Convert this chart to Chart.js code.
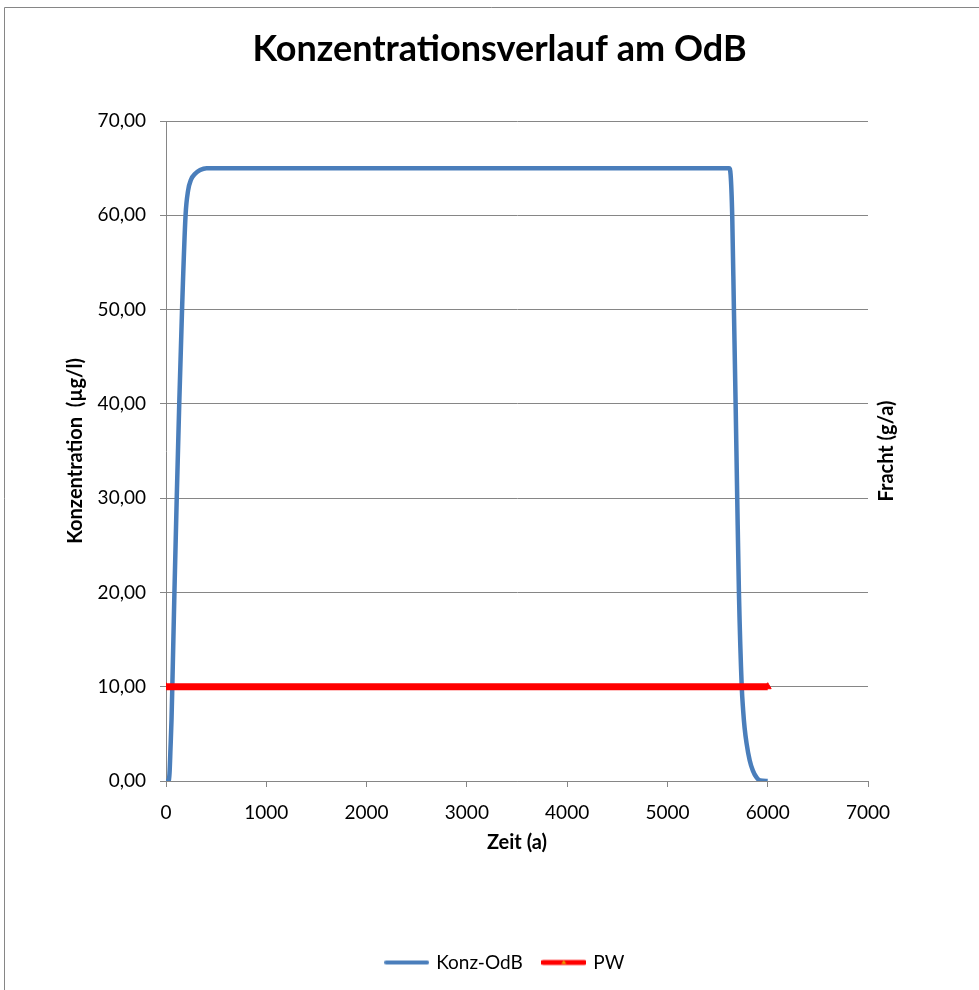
<!DOCTYPE html>
<html lang="de">
<head>
<meta charset="utf-8">
<title>Konzentrationsverlauf am OdB</title>
<script src="https://cdn.jsdelivr.net/npm/chart.js@4.4.1/dist/chart.umd.min.js"></script>
<style>
    html, body { margin: 0; padding: 0; background: #ffffff; }
    #chartBox { width: 979px; height: 990px; }
</style>
</head>
<body>
<div id="chartBox"><canvas id="konzChart" width="979" height="990"></canvas></div>
<script>
// Zeit (a) und Konzentration (µg/l)
const konzZeit = [0, 25, 35, 45, 55, 63, 84, 107, 132, 160, 195, 220, 250, 290, 340, 405, 600,
    5600, 5615, 5630, 5646, 5663, 5680, 5696, 5713, 5741, 5755, 5770, 5789, 5820, 5852, 5890, 5925, 6000];
const konzWert = [0, 0, 0.8, 3.5, 6.5, 10, 20, 30, 40, 50, 60, 62.6, 63.8, 64.4, 64.8, 65, 65,
    65, 65, 64.3, 60, 50, 40, 30, 20, 10, 7.5, 5.6, 4.0, 2.2, 1.1, 0.35, 0.05, 0];

// Prüfwert
const pwZeit = [0, 6000];
const pwWert = [10, 10];

const seriesNames = ['Konz-OdB', 'PW'];
const xTickLabels = ['0', '1000', '2000', '3000', '4000', '5000', '6000', '7000'];
const yTickLabels = ['0,00', '10,00', '20,00', '30,00', '40,00', '50,00', '60,00', '70,00'];

document.addEventListener('DOMContentLoaded', () => {
    const FONT = "Lato, 'Open Sans', sans-serif";
    const GRID = '#868686';
    const BLUE = '#4A7EBB';
    const RED = '#FF0000';

    // legend samples like Excel: line with marker
    function lineSample(color, width, marker) {
        const c = document.createElement('canvas');
        c.width = 45;
        c.height = 10;
        const g = c.getContext('2d');
        g.strokeStyle = color;
        g.lineWidth = width;
        g.lineCap = 'round';
        g.beginPath();
        g.moveTo(2, 5);
        g.lineTo(43, 5);
        g.stroke();
        if (marker) {
            g.fillStyle = '#E8A000';
            g.beginPath();
            g.moveTo(22.5, 2.5);
            g.lineTo(25, 6.5);
            g.lineTo(20, 6.5);
            g.closePath();
            g.fill();
        }
        return c;
    }
    const legendImages = [lineSample(BLUE, 4, false), lineSample(RED, 5, true)];

    const borderPlugin = {
        id: 'rahmen',
        afterLayout(chart) {
            // Excel centres legend and title a bit further right
            chart.legend.left += 16;
            chart.legend.right += 16;
            chart.titleBlock.left += 10;
            chart.titleBlock.right += 10;
        },
        beforeDraw(chart) {
            const ctx = chart.ctx;
            ctx.save();
            ctx.strokeStyle = GRID;
            ctx.lineWidth = 1;
            ctx.beginPath();
            ctx.moveTo(4.5, chart.height);
            ctx.lineTo(4.5, 7.5);
            ctx.lineTo(chart.width, 7.5);
            ctx.stroke();
            ctx.restore();
        },
        afterDraw(chart) {
            // right axis title reads bottom to top
            const s = chart.scales.y2;
            const ctx = chart.ctx;
            ctx.save();
            ctx.translate(s.left + 19, (chart.chartArea.top + chart.chartArea.bottom) / 2);
            ctx.rotate(-Math.PI / 2);
            ctx.font = "bold 20px " + FONT;
            ctx.fillStyle = '#000000';
            ctx.textAlign = 'center';
            ctx.textBaseline = 'middle';
            ctx.fillText('Fracht (g/a)', 0, 0);
            ctx.restore();
        }
    };

    const ctx = document.getElementById('konzChart').getContext('2d');
    new Chart(ctx, {
        type: 'line',
        data: {
            datasets: [
                {
                    label: seriesNames[0],
                    data: konzZeit.map((t, i) => ({ x: t, y: konzWert[i] })),
                    borderColor: BLUE,
                    backgroundColor: BLUE,
                    borderWidth: 4.5,
                    pointRadius: 0,
                    cubicInterpolationMode: 'monotone',
                    fill: false,
                    order: 2
                },
                {
                    label: seriesNames[1],
                    data: pwZeit.map((t, i) => ({ x: t, y: pwWert[i] })),
                    borderColor: RED,
                    backgroundColor: RED,
                    borderWidth: 7,
                    pointStyle: 'triangle',
                    pointRadius: 4,
                    pointBorderWidth: 1,
                    fill: false,
                    order: 1
                }
            ]
        },
        options: {
            responsive: false,
            animation: false,
            layout: { padding: { left: 0, right: 0, top: 0, bottom: 8 } },
            plugins: {
                title: {
                    display: true,
                    text: 'Konzentrationsverlauf am OdB',
                    color: '#000000',
                    font: { family: FONT, size: 36, weight: 'bold' },
                    padding: { top: 28, bottom: 49.8 }
                },
                legend: {
                    position: 'bottom',
                    labels: {
                        color: '#000000',
                        font: { family: FONT, size: 19 },
                        usePointStyle: true,
                        pointStyleWidth: 40,
                        padding: 21,
                        generateLabels(chart) {
                            return chart.data.datasets.map((ds, i) => ({
                                text: ds.label,
                                pointStyle: legendImages[i],
                                fillStyle: ds.borderColor,
                                strokeStyle: ds.borderColor,
                                lineWidth: 0,
                                hidden: false,
                                datasetIndex: i
                            }));
                        }
                    }
                },
                tooltip: { enabled: false }
            },
            scales: {
                x: {
                    type: 'linear',
                    min: 0,
                    max: 7000,
                    afterFit(scale) { scale.height = 151; },
                    ticks: {
                        stepSize: 1000,
                        color: '#000000',
                        font: { family: FONT, size: 19 },
                        padding: 14,
                        maxRotation: 0,
                        callback: (v, i) => xTickLabels[i]
                    },
                    grid: { drawOnChartArea: false, drawTicks: true, tickLength: 6, color: GRID },
                    border: { display: true, color: GRID },
                    title: {
                        display: true,
                        text: 'Zeit (a)',
                        color: '#000000',
                        font: { family: FONT, size: 20, weight: 'bold' },
                        padding: { top: 0, bottom: 77 }
                    }
                },
                y: {
                    position: 'left',
                    min: 0,
                    max: 70,
                    afterFit(scale) { scale.width = 166; },
                    ticks: {
                        stepSize: 10,
                        color: '#000000',
                        font: { family: FONT, size: 19 },
                        padding: 14,
                        callback: (v, i) => yTickLabels[i]
                    },
                    grid: { color: GRID, tickLength: 6 },
                    border: { display: true, color: GRID },
                    title: {
                        display: true,
                        text: 'Konzentration  (µg/l)',
                        color: '#000000',
                        font: { family: FONT, size: 20, weight: 'bold' },
                        padding: { top: 64, bottom: 0 }
                    }
                },
                y2: {
                    position: 'right',
                    min: 0,
                    max: 70,
                    afterFit(scale) { scale.width = 111; },
                    ticks: { display: false },
                    grid: { display: false },
                    border: { display: false }
                }
            }
        },
        plugins: [borderPlugin]
    });
});
</script>
</body>
</html>
